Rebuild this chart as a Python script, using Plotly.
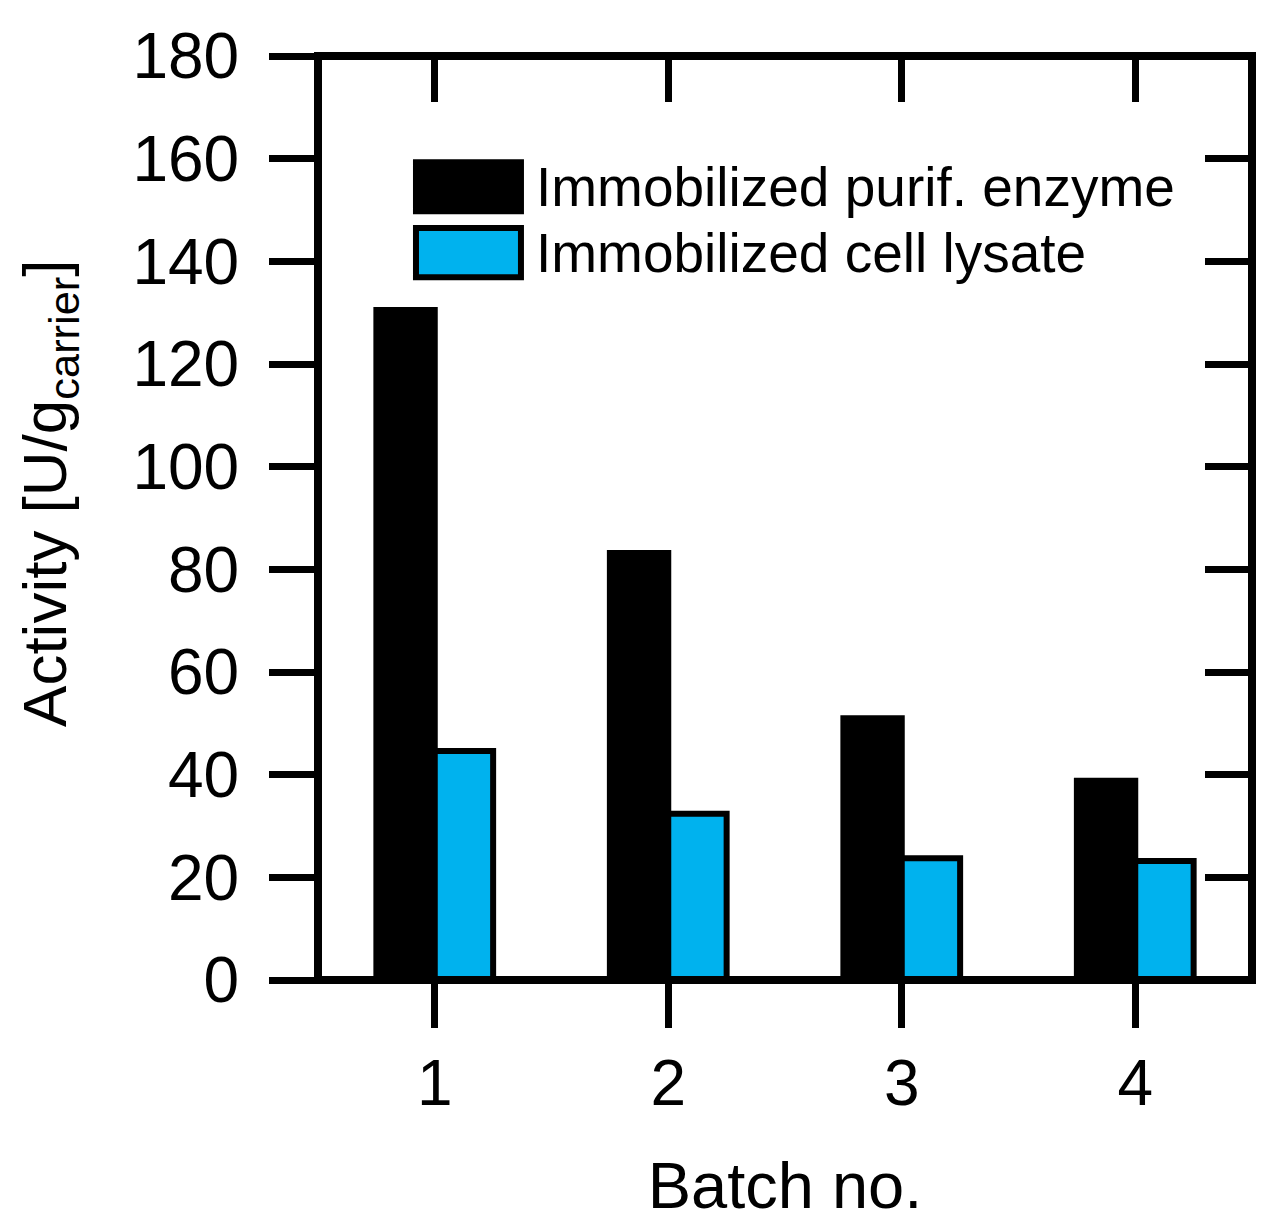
import plotly.graph_objects as go

batches = [1, 2, 3, 4]
purified_enzyme = [130.5, 83.2, 51.0, 38.8]
cell_lysate = [44.6, 32.4, 23.7, 23.2]
series_names = ["Immobilized purif. enzyme", "Immobilized cell lysate"]
y_ticks = list(range(0, 181, 20))

FONT = "Liberation Sans, Arial, sans-serif"
CYAN = "#00B2EE"

fig = go.Figure()
fig.add_trace(go.Bar(x=batches, y=purified_enzyme, name=series_names[0],
                     marker=dict(color="black", line=dict(color="black", width=6))))
fig.add_trace(go.Bar(x=batches, y=cell_lysate, name=series_names[1],
                     marker=dict(color=CYAN, line=dict(color="black", width=6))))
# invisible trace so the mirrored (top / right) axes get drawn
fig.add_trace(go.Scatter(x=[batches[0]], y=[y_ticks[0]], xaxis="x2", yaxis="y2",
                         mode="markers", marker=dict(opacity=0), hoverinfo="skip",
                         showlegend=False))

# frame is drawn as a shape (centred on the plot edge like the original),
# so the axes themselves only carry ticks
axis_common = dict(showline=False, tickcolor="black", tickwidth=7,
                   showgrid=False, zeroline=False)

fig.update_layout(
    width=1268, height=1222,
    margin=dict(l=310, r=24, t=39, b=250),
    paper_bgcolor="white", plot_bgcolor="white",
    barmode="group", bargap=0.5, bargroupgap=0,
    showlegend=False,
    font=dict(family=FONT, size=64, color="black"),
    xaxis=dict(range=[0.5, 4.5], tickvals=batches, ticks="outside", ticklen=47,
               title=dict(text="Batch no.", font=dict(size=65), standoff=44),
               **axis_common),
    yaxis=dict(range=[0, 180], tickvals=y_ticks, ticks="outside", ticklen=48,
               ticklabelstandoff=17, **axis_common),
    xaxis2=dict(overlaying="x", side="top", matches="x", range=[0.5, 4.5],
                tickvals=batches, ticks="inside", ticklen=46, showticklabels=False,
                **axis_common),
    yaxis2=dict(overlaying="y", side="right", matches="y", range=[0, 180],
                tickvals=y_ticks, ticks="inside", ticklen=47, showticklabels=False,
                **axis_common),
)

fig.add_shape(type="rect", xref="paper", yref="paper", x0=0, x1=1, y0=0, y1=1,
              line=dict(color="black", width=8), layer="above")

# y-axis title as a rotated annotation so it can sit where the original has it
fig.add_annotation(xref="paper", yref="paper", x=0, y=0.526, xshift=-269,
                   xanchor="center", yanchor="middle", textangle=-90,
                   text="Activity [U/g<sub>carrier</sub>]", showarrow=False,
                   font=dict(size=62, family=FONT))

# legend drawn by hand to get the large swatches of the original
legend_rows = [(0.8585, "black"), (0.7872, CYAN)]
for (yc, color), name in zip(legend_rows, series_names):
    fig.add_shape(type="rect", xref="paper", yref="paper",
                  x0=0.1049, x1=0.2173, y0=yc - 0.0266, y1=yc + 0.0266,
                  fillcolor=color, line=dict(color="black", width=6))
    fig.add_annotation(xref="paper", yref="paper", x=0.2308, y=yc,
                       xanchor="left", yanchor="middle", text=name,
                       showarrow=False, font=dict(size=55, family=FONT))

fig.write_html("out.html")
